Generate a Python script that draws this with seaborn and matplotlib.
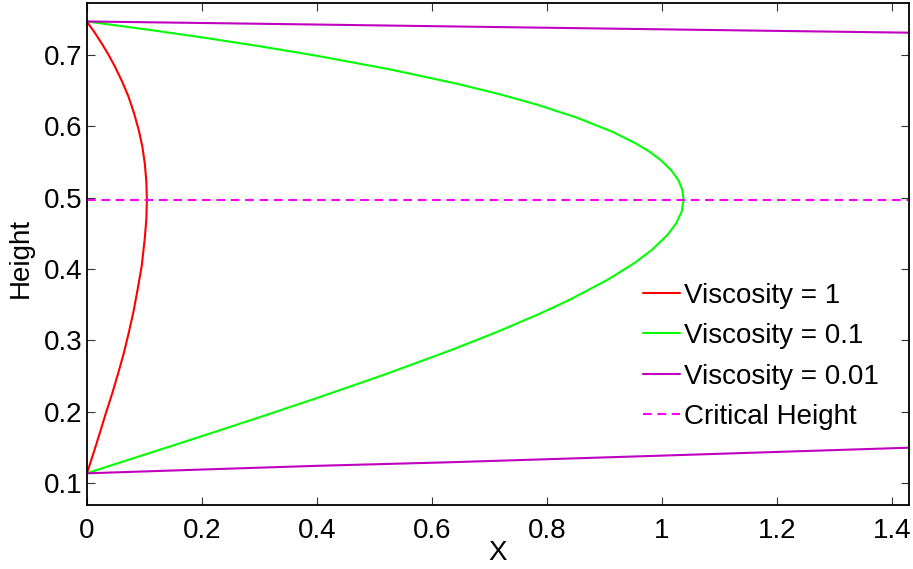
import numpy as np
import pandas as pd
import matplotlib
matplotlib.use("Agg")
import matplotlib.pyplot as plt
from matplotlib.ticker import FuncFormatter
import seaborn as sns

# Profile heights and horizontal extent for each viscosity
red_height = [0.1137, 0.1550, 0.1978, 0.2260, 0.2539, 0.2820, 0.3099,
              0.3400, 0.3706, 0.4050, 0.4430, 0.4700, 0.4968, 0.5230,
              0.5482, 0.5720, 0.5949, 0.6190, 0.6416, 0.6630, 0.6836,
              0.7010, 0.7164, 0.7320, 0.7465]
red_x = [0.0, 0.0164, 0.0328, 0.0440, 0.0542, 0.0640, 0.0724,
         0.0808, 0.0879, 0.0953, 0.1005, 0.1032, 0.1042, 0.1032,
         0.1005, 0.0962, 0.0900, 0.0816, 0.0722, 0.0610, 0.0487,
         0.0370, 0.0254, 0.0129, 0.0]

green_height = [0.1140, 0.1390, 0.1650, 0.1910, 0.2190, 0.2525, 0.2870,
                0.3120, 0.3380, 0.3570, 0.3850, 0.4080, 0.4270, 0.4480,
                0.4640, 0.4800, 0.4970, 0.5110, 0.5250, 0.5390, 0.5530,
                0.5645, 0.5760, 0.5925, 0.6125, 0.6300, 0.6450, 0.6595,
                0.6800, 0.6990, 0.7120, 0.7240, 0.7360, 0.7470]
green_x = [0.0, 0.0968, 0.1968, 0.2954, 0.3992, 0.519, 0.6355,
           0.7138, 0.7893, 0.8398, 0.9058, 0.9515, 0.9829, 1.010,
           1.0248, 1.0343, 1.0379, 1.0357, 1.0285, 1.0158, 0.9977,
           0.9785, 0.955, 0.9138, 0.8513, 0.7846, 0.718, 0.6449,
           0.5262, 0.3993, 0.3026, 0.206, 0.102, 0.0]

purple_low_height = [0.1137, 0.1190, 0.1242, 0.1292, 0.1385, 0.1496]
purple_low_x = [0.0, 0.1995, 0.3995, 0.631, 1.0, 1.43]
purple_high_height = [0.7470, 0.7449, 0.7427, 0.7399, 0.7360, 0.7313]
purple_high_x = [0.0, 0.2, 0.4, 0.649, 1.0, 1.43]

critical_height = 0.497
x_limits = (0.0, 1.43)
y_limits = (0.0693, 0.7729)
x_ticks = [0, 0.2, 0.4, 0.6, 0.8, 1.0, 1.2, 1.4]
y_ticks = [0.1, 0.2, 0.3, 0.4, 0.5, 0.6, 0.7]

sns.set_theme(style="white")
plt.rcParams["font.family"] = ["Liberation Sans", "DejaVu Sans"]

fig = plt.figure(figsize=(9.13, 5.69), dpi=100)
ax = fig.add_axes([87 / 913, 64 / 569, 822 / 913, 502 / 569])

lw = 1.5
sns.lineplot(x=red_x, y=red_height, sort=False, estimator=None,
             color="#FF0000", linewidth=lw, ax=ax, label="Viscosity = 1")
sns.lineplot(x=green_x, y=green_height, sort=False, estimator=None,
             color="#00FF00", linewidth=lw, ax=ax, label="Viscosity = 0.1")
sns.lineplot(x=purple_low_x, y=purple_low_height, sort=False, estimator=None,
             color="#BF00BF", linewidth=lw, ax=ax, label="Viscosity = 0.01")
sns.lineplot(x=purple_high_x, y=purple_high_height, sort=False, estimator=None,
             color="#BF00BF", linewidth=lw, ax=ax, label="_nolegend_")
crit = pd.DataFrame({"x": list(x_limits), "h": [critical_height] * 2})
sns.lineplot(data=crit, x="x", y="h", color="#FF00FF", linewidth=lw,
             dashes=False, ax=ax, label="Critical Height")
ax.lines[-1].set_dashes((4.2, 2.7))

ax.set_xlim(*x_limits)
ax.set_ylim(*y_limits)
ax.set_xticks(x_ticks)
ax.set_yticks(y_ticks)
fmt = FuncFormatter(lambda v, _: f"{v:g}")
ax.xaxis.set_major_formatter(fmt)
ax.yaxis.set_major_formatter(fmt)

for side in ["left", "right", "top", "bottom"]:
    ax.spines[side].set_visible(True)
    ax.spines[side].set_color("black")
    ax.spines[side].set_linewidth(1.3)

ax.tick_params(axis="both", which="major", direction="in", length=6,
               width=0.8, color="#333333", labelsize=20, labelcolor="black",
               top=True, right=True, bottom=True, left=True)
ax.tick_params(axis="x", pad=9)
ax.tick_params(axis="y", pad=3.5)

ax.set_xlabel("X", fontsize=20, color="black")
ax.set_ylabel("Height", fontsize=20, color="black")
ax.xaxis.set_label_coords(0.5, -0.0697)
ax.yaxis.set_label_coords(-0.0645, 0.492)

leg = ax.legend(loc="upper left", bbox_to_anchor=(0.677, 0.443),
                frameon=False, fontsize=20, handlelength=1.3,
                handletextpad=0.15, labelspacing=0.52, borderpad=0,
                borderaxespad=0)
for txt in leg.get_texts():
    txt.set_color("black")

fig.savefig("out.png", dpi=100)
